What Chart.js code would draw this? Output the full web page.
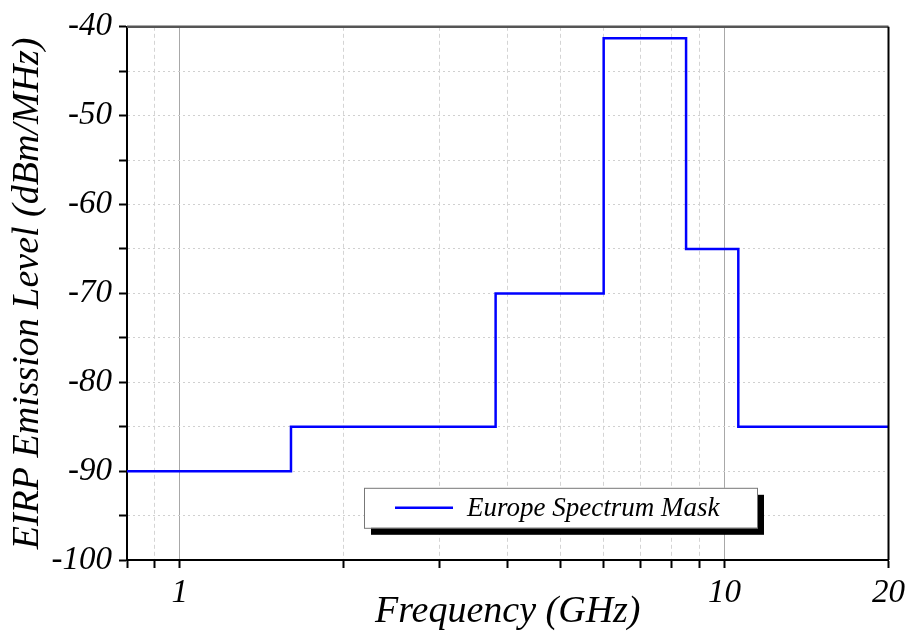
<!DOCTYPE html>
<html>
<head>
<meta charset="utf-8">
<script src="https://cdn.jsdelivr.net/npm/chart.js@4.4.0/dist/chart.umd.min.js"></script>
<style>
  body { margin: 0; background: #fff; }
  canvas { display: block; }
</style>
</head>
<body>
<canvas id="mask-chart" width="911" height="631"></canvas>
<script>
// band edges in GHz and the level held from each edge to the next
const edges = [0.8, 1.6, 3.8, 6.0, 8.5, 10.6, 20];
const levels = [-90, -85, -70, -41.3, -65, -85];
const seriesName = 'Europe Spectrum Mask';

const xTicks = [0.8, 0.9, 1, 2, 3, 4, 5, 6, 7, 8, 9, 10, 20];
const xLabels = [1, 10, 20];
const yTicks = [-100, -95, -90, -85, -80, -75, -70, -65, -60, -55, -50, -45, -40];

const serif = 'Liberation Serif, Times New Roman, serif';

const points = edges.map((f, i) => ({ x: f, y: levels[Math.min(i, levels.length - 1)] }));

const isMajorX = v => v === 1 || v === 10;

const frame = {
  id: 'frame',
  afterDraw(chart) {
    const { ctx, chartArea: a } = chart;
    ctx.save();
    ctx.strokeStyle = '#555';
    ctx.lineWidth = 2.5;
    ctx.beginPath();
    ctx.moveTo(a.left, a.top);
    ctx.lineTo(a.right, a.top);
    ctx.stroke();
    ctx.strokeStyle = '#000';
    ctx.lineWidth = 2;
    ctx.beginPath();
    ctx.moveTo(a.right, a.top);
    ctx.lineTo(a.right, a.bottom);
    ctx.stroke();
    ctx.restore();
  }
};

// boxed legend with a drop shadow
const shadowLegend = {
  id: 'shadowLegend',
  afterDraw(chart) {
    const { ctx, chartArea: a } = chart;
    const ds = chart.data.datasets[0];
    const bx = a.left + 237, by = a.top + 461, bw = 393, bh = 40;
    ctx.save();
    ctx.fillStyle = '#000';
    ctx.fillRect(bx + 7, by + 7, bw, bh);
    ctx.fillStyle = '#fff';
    ctx.fillRect(bx, by, bw, bh);
    ctx.strokeStyle = '#777';
    ctx.lineWidth = 1;
    ctx.strokeRect(bx + 0.5, by + 0.5, bw, bh);
    ctx.strokeStyle = ds.borderColor;
    ctx.lineWidth = 2.5;
    ctx.beginPath();
    ctx.moveTo(bx + 31, by + 20);
    ctx.lineTo(bx + 89, by + 20);
    ctx.stroke();
    ctx.fillStyle = '#000';
    ctx.font = 'italic 27px ' + serif;
    ctx.textBaseline = 'middle';
    ctx.fillText(ds.label, bx + 103, by + 21);
    ctx.restore();
  }
};

new Chart(document.getElementById('mask-chart'), {
  type: 'line',
  data: {
    datasets: [{
      label: seriesName,
      data: points,
      borderColor: '#0000ff',
      borderWidth: 2.5,
      pointRadius: 0,
      stepped: 'before',
      fill: false
    }]
  },
  options: {
    responsive: false,
    animation: false,
    layout: { padding: { top: 24, right: 20, left: 0, bottom: 0 } },
    plugins: {
      legend: { display: false },
      tooltip: { enabled: false }
    },
    scales: {
      x: {
        type: 'logarithmic',
        min: 0.8,
        max: 20,
        afterBuildTicks: scale => { scale.ticks = xTicks.map(v => ({ value: v })); },
        afterFit: scale => { scale.height = 71; },
        ticks: {
          autoSkip: false,
          maxRotation: 0,
          padding: 6,
          color: '#000',
          font: { family: serif, size: 33, style: 'italic' },
          callback: v => xLabels.includes(v) ? String(v) : ''
        },
        grid: {
          color: c => isMajorX(c.tick && c.tick.value) ? '#a8a8a8' : '#d4d4d4',
          lineWidth: 1,
          tickLength: 8,
          tickColor: '#000',
          tickWidth: 2
        },
        border: {
          color: '#000',
          width: 2,
          dash: c => isMajorX(c.tick && c.tick.value) ? [] : [4, 3]
        },
        title: {
          display: true,
          text: 'Frequency (GHz)',
          color: '#000',
          padding: 0,
          font: { family: serif, size: 38, style: 'italic', lineHeight: 1.0 }
        }
      },
      y: {
        min: -100,
        max: -40,
        afterBuildTicks: scale => { scale.ticks = yTicks.map(v => ({ value: v })); },
        afterFit: scale => { scale.width = 127; },
        ticks: {
          padding: 7,
          color: '#000',
          font: { family: serif, size: 33, style: 'italic' },
          callback: v => v % 10 === 0 ? String(v) : ''
        },
        grid: {
          color: '#d0d0d0',
          lineWidth: 1,
          tickLength: 8,
          tickColor: '#000',
          tickWidth: 2
        },
        border: { color: '#000', width: 2, dash: [2, 3] },
        title: {
          display: true,
          text: 'EIRP Emission Level (dBm/MHz)',
          color: '#000',
          padding: { top: 5, bottom: 0 },
          font: { family: serif, size: 38, style: 'italic' }
        }
      }
    }
  },
  plugins: [frame, shadowLegend]
});
</script>
</body>
</html>
